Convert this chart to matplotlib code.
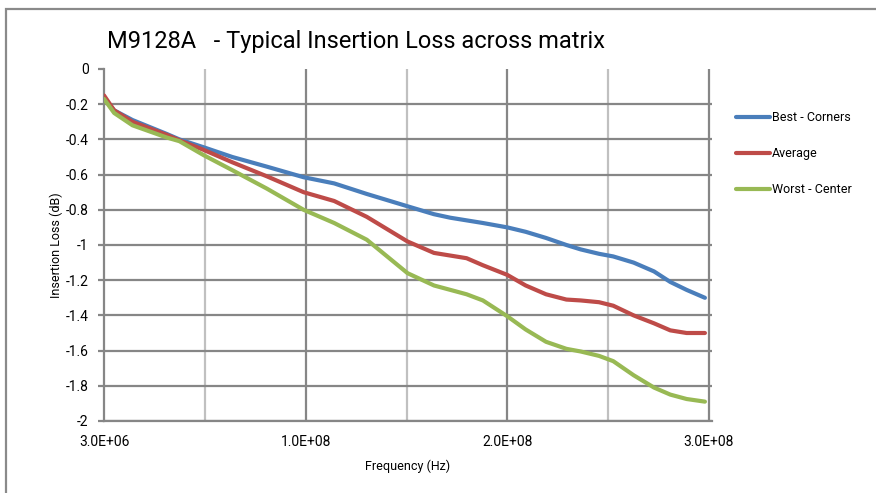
import matplotlib
matplotlib.use("Agg")
import matplotlib.pyplot as plt
from matplotlib.patches import Rectangle
import numpy as np

plt.rcParams['font.family'] = ['Roboto', 'DejaVu Sans']

# ---- data (frequency in MHz, insertion loss in dB) ----
freq_mhz = [3, 8, 17, 34, 40, 52, 66, 83, 101, 116, 132, 152, 165, 173, 181, 189,
            201, 210, 220, 230, 237, 246, 253, 263, 273, 281, 289, 298]
best_corners = [-0.17, -0.235, -0.29, -0.37, -0.40, -0.445, -0.50, -0.555, -0.615, -0.65,
                -0.71, -0.78, -0.825, -0.845, -0.86, -0.875, -0.90, -0.925, -0.96,
                -1.00, -1.025, -1.05, -1.065, -1.10, -1.15, -1.21, -1.255, -1.30]
average = [-0.15, -0.235, -0.30, -0.375, -0.405, -0.46, -0.53, -0.61, -0.70, -0.75,
           -0.84, -0.98, -1.045, -1.06, -1.075, -1.115, -1.17, -1.23, -1.28,
           -1.31, -1.315, -1.325, -1.345, -1.40, -1.445, -1.485, -1.50, -1.50]
worst_center = [-0.17, -0.25, -0.32, -0.39, -0.41, -0.49, -0.575, -0.68, -0.80, -0.875,
                -0.97, -1.16, -1.23, -1.255, -1.28, -1.315, -1.405, -1.48, -1.55,
                -1.59, -1.605, -1.63, -1.66, -1.74, -1.81, -1.85, -1.875, -1.89]
series_labels = ["Best - Corners", "Average", "Worst - Center"]
x_tick_labels = ["3.0E+06", "1.0E+08", "2.0E+08", "3.0E+08"]
y_ticks = [0, -0.2, -0.4, -0.6, -0.8, -1, -1.2, -1.4, -1.6, -1.8, -2]

colors = ["#4A7EBB", "#BE4B48", "#98B954"]

fig = plt.figure(figsize=(8.76, 4.93), dpi=100)
W, H = 876, 493
ax = fig.add_axes([104 / W, 1 - 421 / H, (712 - 104) / W, (421 - 69) / H])

freq = np.array(freq_mhz) * 1e6
for vals, c, lab in zip([best_corners, average, worst_center], colors, series_labels):
    ax.plot(freq, vals, color=c, lw=3.0, label=lab, solid_capstyle='round', zorder=3)

x0, x1 = 3e6, 3e8
step = (x1 - x0) / 6
ax.set_xlim(x0, x0 + (712 - 104) / 605 * (x1 - x0))
ax.set_ylim(-2, 0)

major_x = [x0 + k * 2 * step for k in range(4)]
minor_x = [x0 + (2 * k + 1) * step for k in range(3)]
ax.set_xticks(major_x)
ax.set_xticklabels(x_tick_labels)
ax.set_yticks(y_ticks)
ax.set_yticklabels([("%g" % v) for v in y_ticks])

for xv in major_x[1:]:
    ax.axvline(xv, color="#868686", lw=1.6, zorder=1)
for xv in minor_x:
    ax.axvline(xv, color="#C0C0C0", lw=1.6, zorder=1)
for yv in y_ticks[1:]:
    ax.axhline(yv, color="#868686", lw=1.6, zorder=1)

for s in ["top", "right"]:
    ax.spines[s].set_visible(False)
for s in ["left", "bottom"]:
    ax.spines[s].set_color("#868686")
    ax.spines[s].set_linewidth(1.6)

ax.tick_params(axis='y', length=4, width=1.6, color="#868686", pad=7, labelsize=10)
ax.tick_params(axis='x', length=0, pad=10, labelsize=10)

ax.set_xlabel("Frequency (Hz)", fontsize=9, labelpad=8)
ax.set_ylabel("Insertion Loss (dB)", fontsize=9)
ax.yaxis.set_label_coords((63 - 104) / 608, 0.5)

fig.text(107 / W, 1 - 48 / H, "M9128A   - Typical Insertion Loss across matrix",
         fontsize=17, ha='left', va='baseline')

leg = ax.legend(loc='upper left', bbox_to_anchor=(736 / W, 1 - 111 / H),
                bbox_transform=fig.transFigure, frameon=False, fontsize=9,
                handlelength=2.7, handletextpad=0.2, labelspacing=1.85,
                borderaxespad=0, borderpad=0)
for h in leg.get_lines():
    h.set_linewidth(3.0)

fig.patches.append(Rectangle((6 / W, -0.1), 1.2, 1 - 9 / H + 0.1, transform=fig.transFigure,
                             fill=False, edgecolor="#8A8A8A", lw=1.6))

fig.savefig("out.png", dpi=100)
